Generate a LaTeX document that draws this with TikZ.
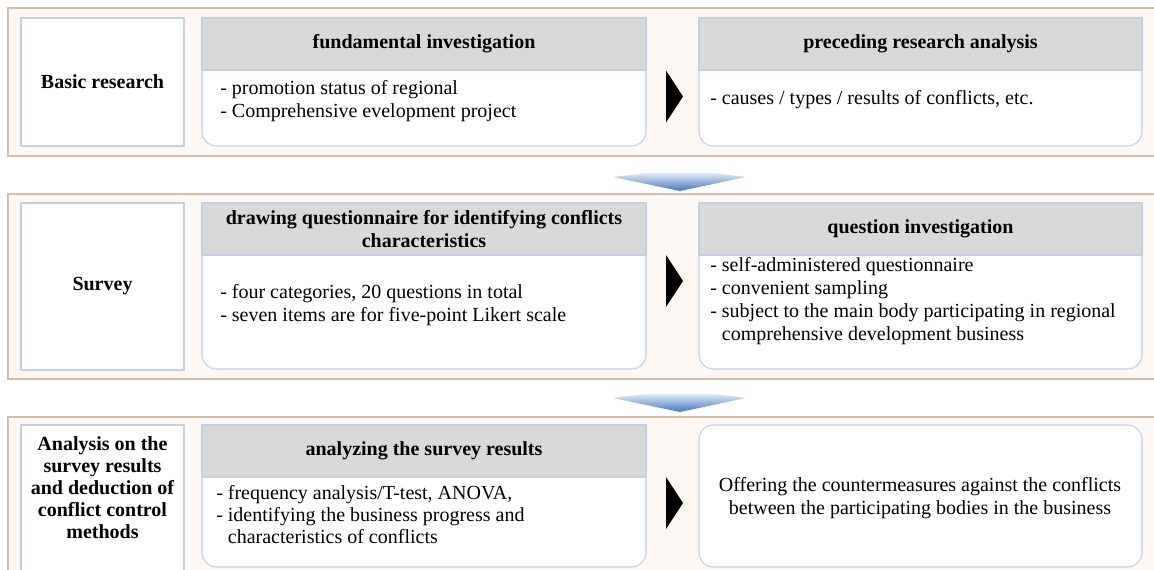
\documentclass[tikz,border=0pt]{standalone}
\usepackage{fontspec}
\setmainfont{Liberation Serif}
\usetikzlibrary{fit}

\begin{document}
\begin{tikzpicture}[x=0.75pt,y=0.75pt,yscale=-1,
  band/.style={draw={rgb,255:red,214;green,190;blue,170}, line width=0.9pt, fill={rgb,255:red,253;green,248;blue,243}},
  labelbox/.style={draw={rgb,255:red,196;green,208;blue,226}, fill=white, line width=0.8pt, inner sep=0pt},
  bodybox/.style={draw={rgb,255:red,196;green,208;blue,226}, fill=white, line width=0.8pt, inner sep=0pt, rounded corners=11pt},
  headbox/.style={draw={rgb,255:red,196;green,208;blue,226}, fill={rgb,255:red,217;green,217;blue,217}, line width=0.8pt, inner sep=0pt},
  title/.style={align=center, inner sep=0pt, font=\bfseries\fontsize{15}{17}\selectfont},
  bodytext/.style={anchor=west, align=left, inner sep=0pt, font=\fontsize{15}{17.25}\selectfont},
  closing/.style={align=center, inner sep=0pt, font=\fontsize{15}{17.25}\selectfont}
]
\useasboundingbox (0,0) rectangle (1154,569);

%Bands
\draw[band] (8,8) rectangle (1170,156);
\draw[band] (8,194) rectangle (1170,379);
\draw[band] (8,417) rectangle (1170,600);

%Down arrows between bands
\foreach \y in {173,394}
  \shade[top color={rgb,255:red,222;green,234;blue,248}, bottom color={rgb,255:red,70;green,120;blue,186}] (613,\y+4) -- (645,\y) -- (715,\y) -- (746,\y+4) -- (680,\y+18) -- cycle;

% Row 1
\node[labelbox, fit={(21,18) (184,146)}] (basic) {};
\node[title] (basictext) at (basic.center) {Basic research};
\node[bodybox, fit={(202,18) (646,146)}] (fundA) {};
\node[headbox, fit={(202,18) (646,70)}] (fundAhead) {};
\node[title] (fundAtitle) at (fundAhead.center) {fundamental investigation};
\node[bodytext] (fundAtext) at (220,101) {- promotion status of regional\\- Comprehensive evelopment project};
\node[bodybox, fit={(699,18) (1142,146)}] (precB) {};
\node[headbox, fit={(699,18) (1142,70)}] (precBhead) {};
\node[title] (precBtitle) at (precBhead.center) {preceding research analysis};
\node[bodytext] (precBtext) at (710,100) {- causes / types / results of conflicts, etc.};

% Row 2
\node[labelbox, fit={(21,203) (184,370)}] (survey) {};
\node[title] (surveytext) at (survey.center) {Survey};
\node[bodybox, fit={(202,203) (646,369)}] (drawQ) {};
\node[headbox, fit={(202,203) (646,255)}] (drawQhead) {};
\node[title] (drawQtitle) at (drawQhead.center) {drawing questionnaire for identifying conflicts\\characteristics};
\node[bodytext] (drawQtext) at (220,305) {- four categories, 20 questions in total\\- seven items are for five-point Likert scale};
\node[bodybox, fit={(699,203) (1142,369)}] (questInv) {};
\node[headbox, fit={(699,203) (1142,255)}] (questInvhead) {};
\node[title] (questInvtitle) at (questInvhead.center) {question investigation};
\node[bodytext] (questInvtext) at (710,301) {- self-administered questionnaire\\- convenient sampling\\- subject to the main body participating in regional\\\phantom{- }comprehensive development business};

% Row 3
\node[labelbox, fit={(21,425) (184,585)}] (analysis) {};
\node[title, font=\bfseries\fontsize{15}{16.5}\selectfont] (analysistext) at (102.5,488) {Analysis on the\\survey results\\and deduction of\\conflict control\\methods};
\node[bodybox, fit={(202,425) (646,567)}] (analyzing) {};
\node[headbox, fit={(202,425) (646,477)}] (analyzinghead) {};
\node[title] (analyzingtitle) at (analyzinghead.center) {analyzing the survey results};
\node[bodytext, font=\fontsize{15}{16.5}\selectfont] (analyzingtext) at (216,515) {- frequency analysis/T-test, ANOVA,\\- identifying the business progress and\\\phantom{- }characteristics of conflicts};
\node[bodybox, fit={(699,425) (1142,567)}] (offering) {};
\node[closing] (offeringtext) at (920,498) {Offering the countermeasures against the conflicts\\between the participating bodies in the business};

%Black arrows between boxes
\foreach \y in {96.5,281,503}
  \fill (666,\y-26) -- (683,\y) -- (666,\y+26) -- cycle;

\end{tikzpicture}
\end{document}
